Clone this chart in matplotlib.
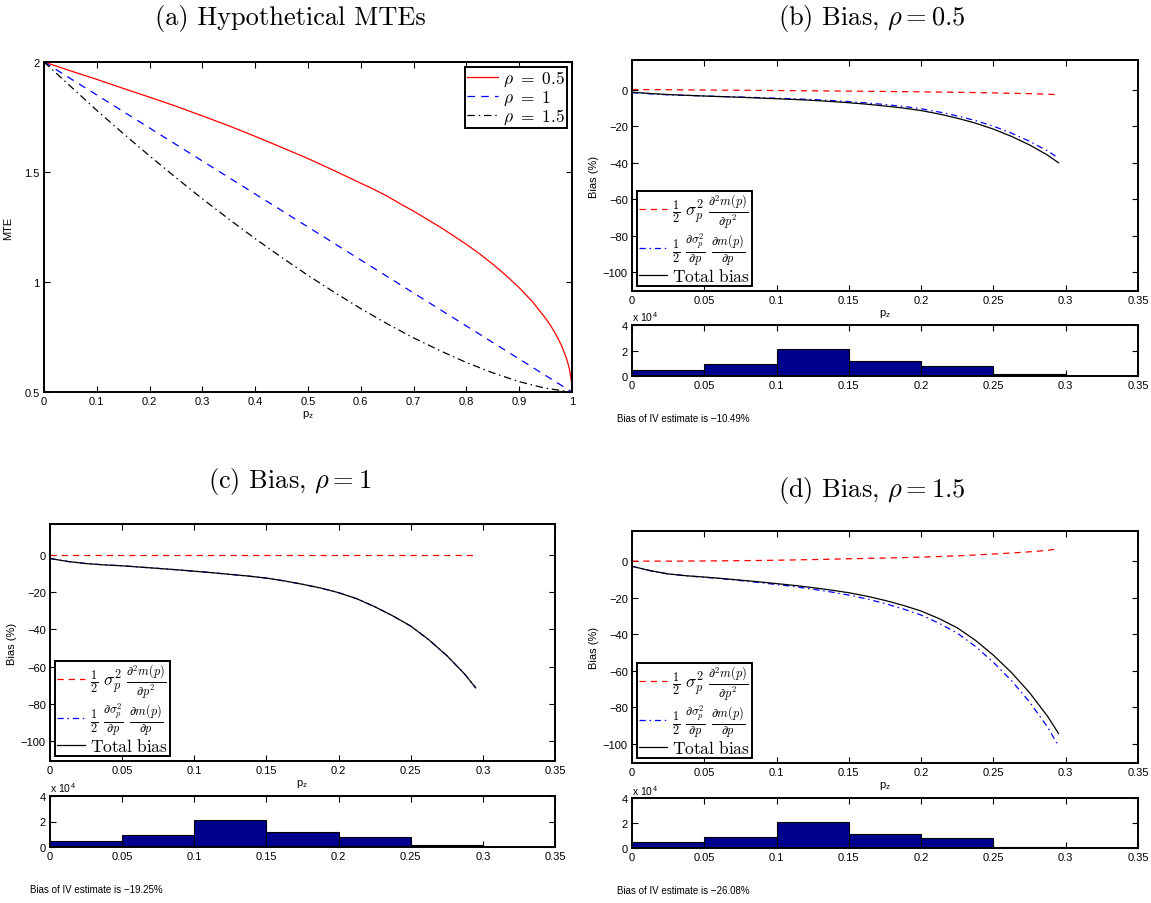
import matplotlib
matplotlib.use("Agg")
import matplotlib.pyplot as plt

plt.rcParams['mathtext.fontset'] = 'cm'
plt.rcParams['font.family'] = ['Liberation Sans', 'DejaVu Sans']

W = 1151.0
H = 904.0

# MTE curves, panel (a)
pRed = [0, 0.05, 0.1, 0.15, 0.2, 0.25, 0.3, 0.35, 0.4, 0.45, 0.5, 0.55, 0.6,
        0.625, 0.65, 0.675, 0.7, 0.725, 0.75, 0.775, 0.8, 0.825, 0.85, 0.875,
        0.9, 0.925, 0.95, 0.96, 0.97, 0.98, 0.99, 0.995, 0.999, 1.0]
mteRed = [2.0, 1.96, 1.921, 1.88, 1.84, 1.799, 1.755, 1.71, 1.662, 1.612,
          1.561, 1.506, 1.449, 1.421, 1.39, 1.355, 1.322, 1.286, 1.25, 1.211,
          1.171, 1.128, 1.081, 1.03, 0.974, 0.911, 0.835, 0.80, 0.76, 0.712,
          0.65, 0.606, 0.547, 0.5]
pBlue = [0, 0.25, 0.5, 0.75, 1.0]
mteBlue = [2.0, 1.625, 1.25, 0.875, 0.5]
pBlack = [0, 0.05, 0.1, 0.15, 0.2, 0.25, 0.3, 0.35, 0.4, 0.45, 0.5, 0.55, 0.6,
          0.65, 0.7, 0.75, 0.8, 0.85, 0.9, 0.95, 1.0]
mteBlack = [2.0, 1.89, 1.78, 1.675, 1.573, 1.474, 1.378, 1.286, 1.197, 1.112,
            1.03, 0.953, 0.879, 0.81, 0.746, 0.688, 0.634, 0.587, 0.547,
            0.517, 0.5]
mteLabels = [r'$\rho\ =\ 0.5$', r'$\rho\ =\ 1$', r'$\rho\ =\ 1.5$']

# bias decomposition, panels (b)-(d)
pBias = [0, 0.0125, 0.025, 0.0375, 0.05, 0.0625, 0.075, 0.0875, 0.1, 0.1125,
         0.125, 0.1375, 0.15, 0.1625, 0.175, 0.1875, 0.2, 0.2125, 0.225,
         0.2375, 0.25, 0.2625, 0.275, 0.2875, 0.295]

secondB = [0.3, 0.22, 0.15, 0.07, 0.0, -0.07, -0.15, -0.22, -0.3, -0.37,
           -0.45, -0.52, -0.6, -0.7, -0.8, -0.9, -1.0, -1.12, -1.25, -1.42,
           -1.6, -1.8, -2.0, -2.3, -2.6]
firstB = [-1.5, -2.12, -2.65, -2.97, -3.3, -3.58, -3.85, -4.18, -4.5, -4.83,
          -5.25, -5.78, -6.4, -7.1, -8.0, -9.0, -10.3, -12.08, -14.25, -16.78,
          -19.9, -23.7, -28.2, -33.5, -37.4]
totalB = [-1.2, -1.9, -2.5, -2.9, -3.3, -3.65, -4.0, -4.4, -4.8, -5.2, -5.7,
          -6.3, -7.0, -7.8, -8.8, -9.9, -11.3, -13.2, -15.5, -18.2, -21.5,
          -25.5, -30.2, -35.8, -40.0]

secondC = [0, 0, 0, 0, 0, 0, 0, 0, 0, 0, 0, 0, 0, 0, 0, 0, 0, 0, 0, 0, 0, 0,
           0, 0, 0]
firstC = [-2.0, -3.6, -4.7, -5.4, -5.9, -6.6, -7.3, -8.0, -8.8, -9.6, -10.5,
          -11.4, -12.5, -14.0, -15.8, -17.8, -20.3, -23.5, -27.8, -32.7,
          -38.2, -45.5, -54.0, -64.0, -71.3]
totalC = [-2.0, -3.6, -4.7, -5.4, -5.9, -6.6, -7.3, -8.0, -8.8, -9.6, -10.5,
          -11.4, -12.5, -14.0, -15.8, -17.8, -20.3, -23.5, -27.8, -32.7,
          -38.2, -45.5, -54.0, -64.0, -71.3]

secondD = [0.0, 0.0, 0.0, 0.05, 0.1, 0.17, 0.25, 0.37, 0.5, 0.67, 0.85, 1.05,
           1.3, 1.5, 1.7, 1.95, 2.2, 2.55, 2.9, 3.35, 3.9, 4.45, 5.1, 5.9, 6.8]
firstD = [-2.8, -5.2, -7.0, -8.05, -8.8, -9.67, -10.65, -11.67, -12.8, -13.97,
          -15.35, -16.85, -18.6, -20.7, -23.2, -26.15, -29.5, -34.05, -39.4,
          -46.65, -55.4, -65.45, -77.1, -90.9, -101.1]
totalD = [-2.8, -5.2, -7.0, -8.0, -8.7, -9.5, -10.4, -11.3, -12.3, -13.3,
          -14.5, -15.8, -17.3, -19.2, -21.5, -24.2, -27.3, -31.5, -36.5,
          -43.3, -51.5, -61.0, -72.0, -85.0, -94.3]

biasLabels = [r'$\frac{1}{2}\ \sigma_p^2\ \frac{\partial^2 m(p)}{\partial p^2}$',
              r'$\frac{1}{2}\ \frac{\partial \sigma_p^2}{\partial p}\ \frac{\partial m(p)}{\partial p}$',
              r'$\mathrm{Total\ bias}$']

# distribution of p_z
binEdges = [0, 0.05, 0.1, 0.15, 0.2, 0.25, 0.3, 0.35]
binCounts = [4800, 9200, 20800, 11500, 8000, 1200, 150]

ivBias = ['\u221210.49', '\u221219.25', '\u221226.08']

biasTicks = [0, 0.05, 0.1, 0.15, 0.2, 0.25, 0.3, 0.35]
biasTickLabels = ['0', '0.05', '0.1', '0.15', '0.2', '0.25', '0.3', '0.35']
yBiasTicks = [-100, -80, -60, -40, -20, 0]
yBiasLabels = ['\u2212100', '\u221280', '\u221260', '\u221240', '\u221220', '0']


def box(left, top, right, bottom):
    return [left / W, 1 - bottom / H, (right - left) / W, (bottom - top) / H]


def styleAxes(ax):
    ax.tick_params(direction='in', length=4, width=0.8, top=True, right=True,
                   labelsize=8, pad=3, colors='black')
    for s in ax.spines.values():
        s.set_linewidth(1.4)


def title(x, y, txt):
    fig.text(x / W, 1 - y / H, txt, ha='center', va='center', fontsize=19,
             family='cmr10')


fig = plt.figure(figsize=(W / 100, H / 100), dpi=100)

# (a) hypothetical MTEs
ax = fig.add_axes(box(44, 63, 572, 393))
l1, = ax.plot(pRed, mteRed, color='red', lw=0.9)
l2, = ax.plot(pBlue, mteBlue, color='blue', lw=0.9, dashes=(6, 5))
l3, = ax.plot(pBlack, mteBlack, color='black', lw=0.9, dashes=(6, 3, 1.2, 3))
ax.set_xlim(0, 1)
ax.set_ylim(0.5, 2)
ax.set_xticks([i / 10 for i in range(11)])
ax.set_xticklabels(['0', '0.1', '0.2', '0.3', '0.4', '0.5', '0.6', '0.7',
                    '0.8', '0.9', '1'])
ax.set_yticks([0.5, 1, 1.5, 2])
ax.set_yticklabels(['0.5', '1', '1.5', '2'])
ax.set_xlabel(r'p$_\mathregular{z}$', fontsize=8, labelpad=1)
ax.set_ylabel('MTE', fontsize=8, labelpad=8)
styleAxes(ax)
leg = ax.legend([l1, l2, l3], mteLabels, loc='upper right', fontsize=12.5,
                fancybox=False, edgecolor='black', framealpha=1,
                borderpad=0.1, labelspacing=0.0, handlelength=1.8,
                handletextpad=0.3, borderaxespad=0.3)
leg.get_frame().set_linewidth(1.4)
title(290, 18, '(a) Hypothetical MTEs')


def biasPanel(mainBox, histBox, second, first, total, iv, textPos):
    ax = fig.add_axes(mainBox)
    a1, = ax.plot(pBias, second, color='red', lw=0.9, dashes=(5, 4))
    a2, = ax.plot(pBias, first, color='blue', lw=0.9, dashes=(5, 3, 1.2, 3))
    a3, = ax.plot(pBias, total, color='black', lw=0.9)
    ax.set_xlim(0, 0.35)
    ax.set_ylim(-110.5, 16.5)
    ax.set_xticks(biasTicks)
    ax.set_xticklabels(biasTickLabels)
    ax.set_yticks(yBiasTicks)
    ax.set_yticklabels(yBiasLabels)
    ax.set_xlabel(r'p$_\mathregular{z}$', fontsize=8, labelpad=1)
    ax.set_ylabel('Bias (%)', fontsize=8, labelpad=3)
    styleAxes(ax)
    leg = ax.legend([a1, a2, a3], biasLabels, loc='lower left', fontsize=12.5,
                    fancybox=False, edgecolor='black', framealpha=1,
                    borderpad=0.1, labelspacing=0.0, handlelength=1.6,
                    handletextpad=0.3, borderaxespad=0.3)
    leg.get_frame().set_linewidth(1.4)

    hx = fig.add_axes(histBox)
    hx.bar(binEdges[:-1], binCounts, width=0.05, align='edge',
           color='#00008F', edgecolor='black', linewidth=0.8)
    hx.set_xlim(0, 0.35)
    hx.set_ylim(0, 40000)
    hx.set_xticks(biasTicks)
    hx.set_xticklabels(biasTickLabels)
    hx.set_yticks([0, 20000, 40000])
    hx.set_yticklabels(['0', '2', '4'])
    styleAxes(hx)
    hx.text(0, 1.03, r'x 10$^\mathregular{4}$', transform=hx.transAxes,
            fontsize=7.5, va='bottom', ha='left')

    fig.text(textPos[0] / W, 1 - textPos[1] / H,
             'Bias of IV estimate is ' + iv + '%', fontsize=7, va='center')


biasPanel(box(632, 61, 1138, 292), box(632, 326, 1138, 377),
          secondB, firstB, totalB, ivBias[0], (617, 419))
title(872, 18, r'(b) Bias, $\rho = 0.5$')

biasPanel(box(50, 525, 555, 762), box(50, 797, 555, 848),
          secondC, firstC, totalC, ivBias[1], (30, 890))
title(290, 482, r'(c) Bias, $\rho = 1$')

biasPanel(box(632, 532, 1138, 764), box(632, 799, 1138, 849),
          secondD, firstD, totalD, ivBias[2], (617, 891))
title(872, 491, r'(d) Bias, $\rho = 1.5$')

fig.savefig('out.png', dpi=100)
